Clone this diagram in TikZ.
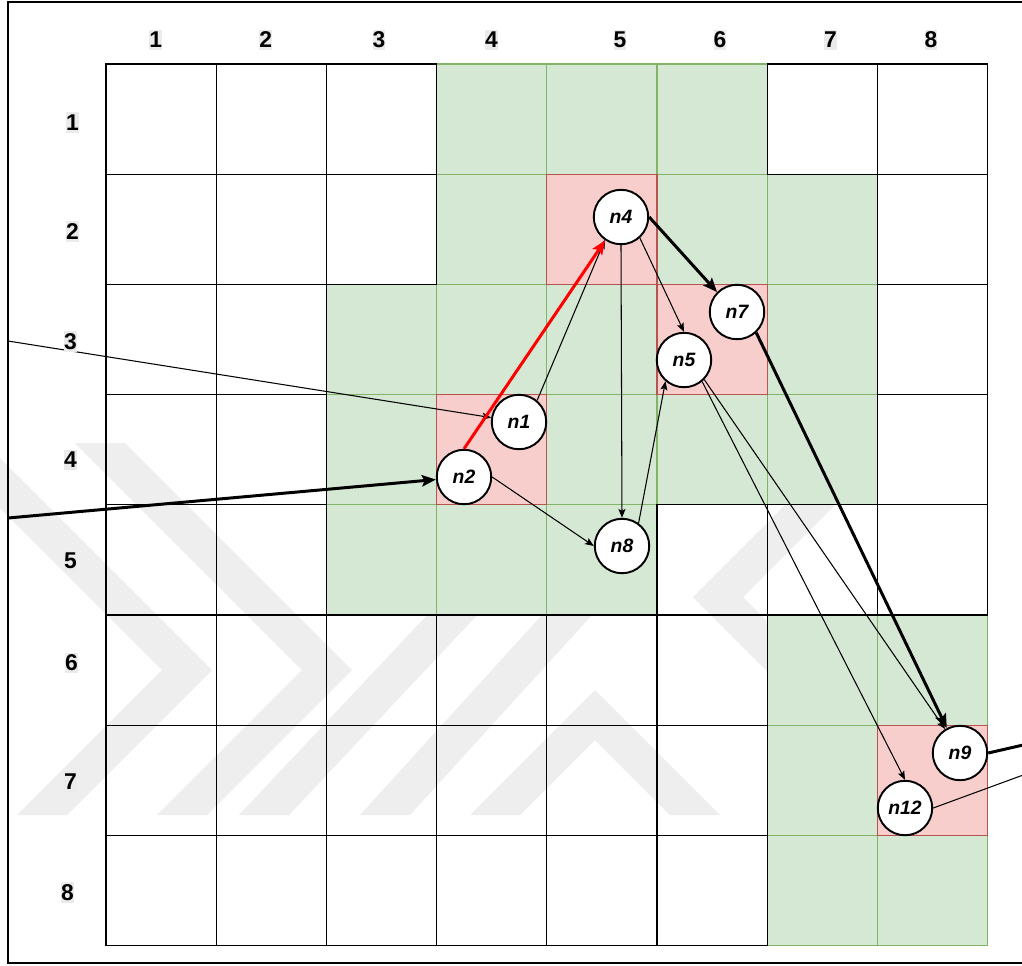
\documentclass[tikz,border=0pt]{standalone}
\usepackage{fontspec}
\setmainfont{Liberation Sans}
\usetikzlibrary{arrows.meta}
\definecolor{gfill}{HTML}{D5E8D4}
\definecolor{gline}{HTML}{82B366}
\definecolor{rfill}{HTML}{F8CECC}
\definecolor{rline}{HTML}{B85450}
\definecolor{wmark}{HTML}{EEEEEE}
\definecolor{lblbg}{HTML}{EBEBEB}
\definecolor{redarrow}{HTML}{FF0000}
\begin{document}
\begin{tikzpicture}[x=0.02cm,y=-0.02cm,
  greencell/.style={fill=gfill,draw=gline,line width=0.75pt},
  redcell/.style={fill=rfill,draw=rline,line width=0.75pt},
  whitecell/.style={draw=black,line width=0.75pt},
  lbl/.style={font=\fontsize{13}{13}\selectfont\bfseries,fill=lblbg,inner xsep=0pt,inner ysep=1.3pt},
  nd/.style={circle,draw=black,fill=white,line width=1.1pt,minimum size=31pt,inner sep=0pt,font=\fontsize{11}{11}\selectfont\bfseries\itshape},
  thinarr/.style={draw=black,line width=0.6pt,-{Stealth[length=5pt,width=4pt,inset=1pt]}},
  thickarr/.style={draw=black,line width=1.7pt,-{Stealth[length=8pt,width=6.5pt,inset=1.5pt]}},
  redarr/.style={draw=redarrow,line width=1.7pt,-{Stealth[length=8pt,width=6.5pt,inset=1.5pt]}},
  thinline/.style={draw=black,line width=0.6pt},
  thickline/.style={draw=black,line width=1.7pt},
  wm/.style={fill=wmark,draw=none}]
\path[use as bounding box] (0,0) rectangle (1022,965);
\clip (0,0) rectangle (1022,965);
\fill[white] (0,0) rectangle (1022,965);
% watermark (faint background logo)
\path[wm] (-15,443) -- (212,670) -- (67,815) -- (17,815) -- (162,670) -- (-65,443) -- cycle;
\path[wm] (125,443) -- (352,670) -- (207,815) -- (157,815) -- (302,670) -- (75,443) -- cycle;
\path[wm] (239,815) -- (289,815) -- (529,560) -- (479,560) -- cycle;
\path[wm] (360,815) -- (410,815) -- (642,560) -- (592,560) -- cycle;
\path[wm] (470,815) -- (595,690) -- (720,815) -- (670,815) -- (595,740) -- (520,815) -- cycle;
\path[wm] (693,597) -- (790,500) -- (840,500) -- (743,597) -- (840,694) -- (790,694) -- cycle;
% frame
\draw[line width=1.1pt] (8,2) rectangle (1060,963);
% coloured cells
\def\cs{110.2}
\foreach \c/\r in {4/1,5/1,6/1,4/2,6/2,7/2,3/3,4/3,5/3,7/3,3/4,5/4,6/4,7/4,3/5,4/5,5/5,7/6,8/6,7/7,7/8,8/8}
  \path[greencell] ({106+(\c-1)*\cs},{64+(\r-1)*\cs}) rectangle +(\cs,\cs);
\foreach \c/\r in {5/2,6/3,4/4,8/7}
  \path[redcell] ({106+(\c-1)*\cs},{64+(\r-1)*\cs}) rectangle +(\cs,\cs);
\foreach \c/\r in {1/1,2/1,3/1,7/1,8/1,1/2,2/2,3/2,8/2,1/3,2/3,8/3,1/4,2/4,8/4,1/5,2/5,6/5,7/5,8/5,1/6,2/6,3/6,4/6,5/6,6/6,1/7,2/7,3/7,4/7,5/7,6/7,1/8,2/8,3/8,4/8,5/8,6/8}
  \path[whitecell] ({106+(\c-1)*\cs},{64+(\r-1)*\cs}) rectangle +(\cs,\cs);
% nodes
\node[nd] (n4) at (621,217) {n4};
\node[nd] (n7) at (737,312) {n7};
\node[nd] (n5) at (684,360) {n5};
\node[nd] (n1) at (519,422) {n1};
\node[nd] (n2) at (464,477) {n2};
\node[nd] (n8) at (622,546) {n8};
\node[nd] (n9) at (960,753) {n9};
\node[nd] (n12) at (905,808) {n12};
\coordinate (inA) at (8,341);
\coordinate (inB) at (8,518);
\coordinate (outA) at (1045,740);
\coordinate (outB) at (1045,767);
% connectors
\draw[thinarr] (inA) -- (n1);
\draw[thickarr] (inB) -- (n2);
\draw[thinarr] (n1.50) -- (n4.235);
\draw[redarr] (n2.north) -- (n4);
\draw[thinarr] (n4.south) -- (n8.north);
\draw[thinarr] (n4.-48) -- (n5.north);
\draw[thickarr] (n4.east) -- (n7.135);
\draw[thinarr] (n2.east) -- (n8.west);
\draw[thinarr] (n8.54) -- (n5.229);
\draw[thickarr] (n7.-47) -- (n9.118);
\draw[thinarr] (n5.-44) -- (n9.122);
\draw[thinarr] (n5.-50) -- (n12.north);
\draw[thickline] (n9.east) -- (outA);
\draw[thinline] (n12.east) -- (outB);
% labels
\node[lbl] (c1) at (155.7,40) {1};
\node[lbl] (c2) at (265.7,40) {2};
\node[lbl] (c3) at (379,40) {3};
\node[lbl] (c4) at (491.5,40) {4};
\node[lbl] (c5) at (620,40) {5};
\node[lbl] (c6) at (720,40) {6};
\node[lbl] (c7) at (830.5,40) {7};
\node[lbl] (c8) at (931,40) {8};
\node[lbl] (r1) at (72.5,122.5) {1};
\node[lbl] (r2) at (72.5,231.5) {2};
\node[lbl] (r3) at (70.5,341.5) {3};
\node[lbl] (r4) at (70.5,460) {4};
\node[lbl] (r5) at (70.5,561) {5};
\node[lbl] (r6) at (71.5,663) {6};
\node[lbl] (r7) at (70.5,781.5) {7};
\node[lbl] (r8) at (67.5,892.5) {8};
\end{tikzpicture}
\end{document}
